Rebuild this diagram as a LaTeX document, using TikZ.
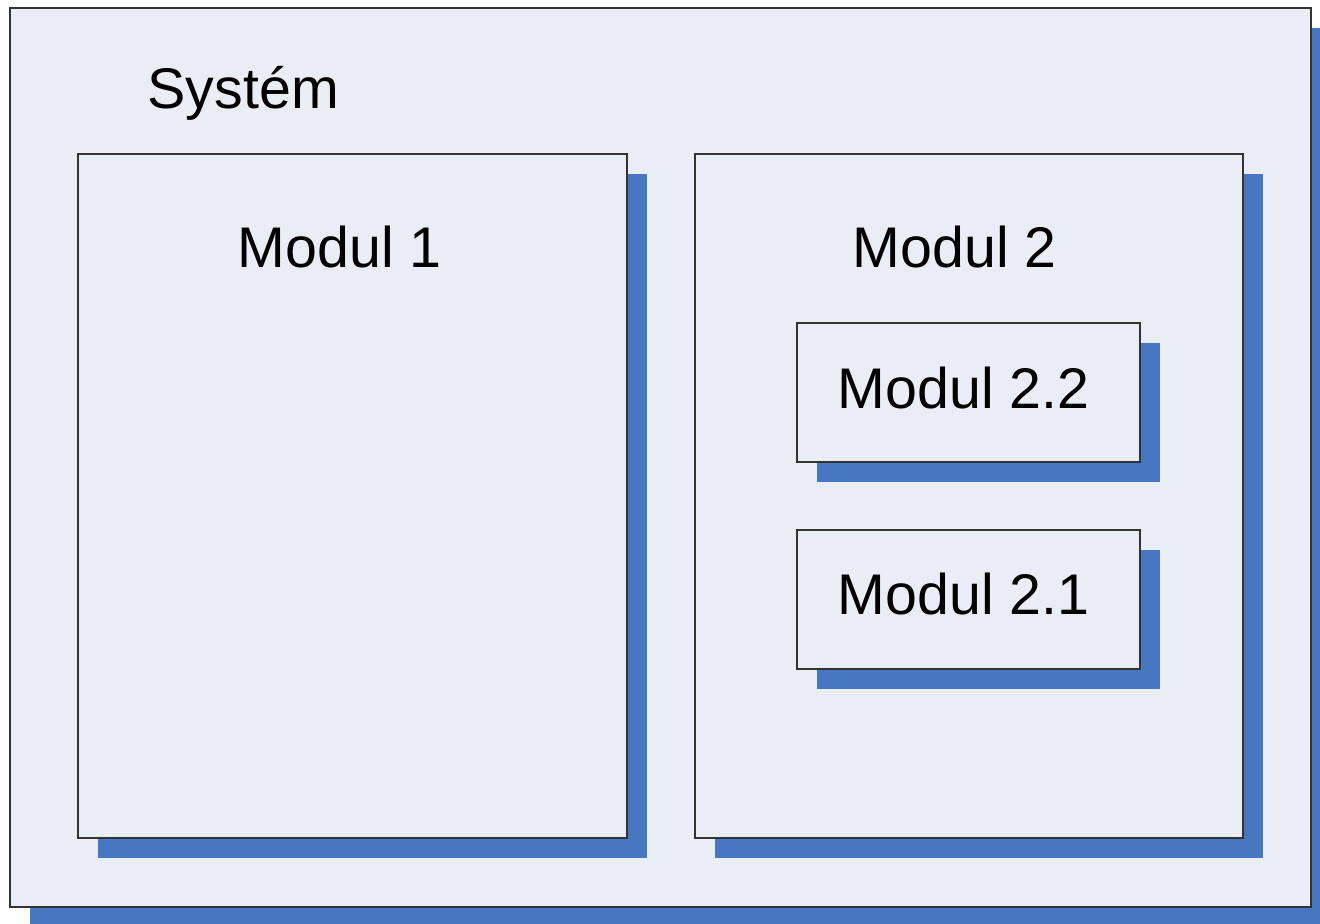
\documentclass[tikz,border=0pt]{standalone}
\usepackage{fontspec}
\setmainfont{Liberation Sans}
\usetikzlibrary{shadows}

\begin{document}
\begin{tikzpicture}[
        x=0.01cm,
        y=-0.01cm,
        modbox/.style={
            rectangle,
            fill=boxfill,
            draw=boxline,
            line width=0.6pt,
            inner sep=0pt,
            outer sep=0pt,
            general shadow={fill=shadowblue, shadow xshift=0.2cm, shadow yshift=-0.2cm}
          },
        modlabel/.style={
            font=\fontsize{16.3}{19}\selectfont,
            anchor=base west,
            inner sep=0pt
          }]
        % Define colors
        \definecolor{boxfill}{HTML}{E9EDF6}   % light blue
        \definecolor{shadowblue}{HTML}{4877C1} % blue
        \definecolor{boxline}{HTML}{333333}

        \useasboundingbox (0,0) rectangle (1320,923);

        % Draw system box
        \node[modbox, minimum width=13.01cm, minimum height=8.99cm] (sys) at (660.5,457.5) {};
        \node[modlabel] (syslabel) at (147,108) {Systém};

        % Draw modules
        \node[modbox, minimum width=5.49cm, minimum height=6.84cm] (mod1) at (352.5,496) {};
        \node[modbox, minimum width=5.48cm, minimum height=6.84cm] (mod2) at (969,496) {};
        \node[modlabel] (mod1label) at (237,267) {Modul 1};
        \node[modlabel] (mod2label) at (852,267) {Modul 2};

        % Draw submodules
        \node[modbox, minimum width=3.43cm, minimum height=1.39cm] (mod22) at (968.5,392.5) {};
        \node[modbox, minimum width=3.43cm, minimum height=1.39cm] (mod21) at (968.5,599.5) {};
        \node[modlabel] (mod22label) at (837,408) {Modul 2.2};
        \node[modlabel] (mod21label) at (837,614) {Modul 2.1};
    \end{tikzpicture}
\end{document}
